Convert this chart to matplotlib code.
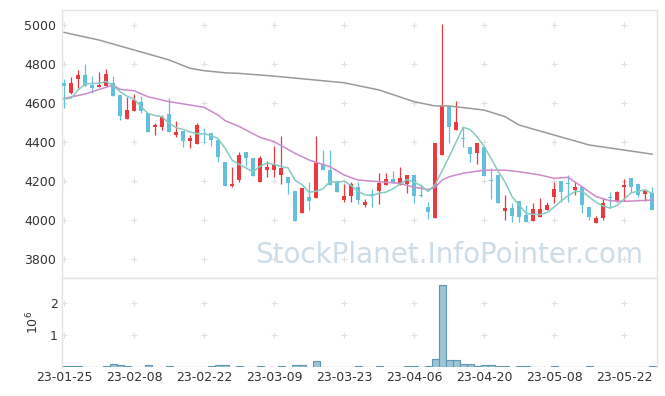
import matplotlib
matplotlib.use('Agg')
import matplotlib.pyplot as plt
import numpy as np
import pandas as pd

# Daily OHLC (KRX trading days 2023-01-25 .. 2023-05-26)
holidays = ['2023-03-01', '2023-05-01', '2023-05-05']
opens = [4701, 4653, 4725, 4744, 4692, 4684, 4689, 4701, 4641, 4520,
         4561, 4603, 4547, 4479, 4479, 4544, 4436, 4458, 4407, 4388,
         4446, 4448, 4410, 4296, 4176, 4205, 4347, 4318, 4197, 4259,
         4255, 4233, 4223, 4150, 4034, 4116, 4111, 4287, 4255, 4200,
         4104, 4125, 4172, 4075, 4133, 4150, 4180, 4209, 4180, 4186,
         4233, 4127, 4069, 4009, 4333, 4585, 4462, 4420, 4376, 4342,
         4373, 4207, 4231, 4048, 4063, 4097, 4026, 3993, 4015, 4053,
         4116, 4200, 4190, 4154, 4168, 4065, 3986, 4009, 4118, 4099,
         4171, 4214, 4183, 4134, 4140]
highs = [4721, 4735, 4769, 4798, 4738, 4761, 4774, 4738, 4641, 4629,
         4646, 4636, 4547, 4499, 4538, 4624, 4509, 4458, 4436, 4496,
         4470, 4448, 4410, 4296, 4271, 4350, 4347, 4318, 4328, 4301,
         4379, 4430, 4223, 4150, 4162, 4196, 4433, 4359, 4359, 4200,
         4184, 4196, 4196, 4109, 4157, 4241, 4241, 4250, 4270, 4233,
         4233, 4184, 4095, 4393, 5006, 4585, 4610, 4479, 4376, 4397,
         4380, 4267, 4231, 4128, 4087, 4097, 4075, 4090, 4114, 4093,
         4197, 4200, 4230, 4195, 4168, 4065, 4022, 4112, 4145, 4150,
         4209, 4214, 4183, 4149, 4170]
lows = [4573, 4644, 4675, 4689, 4653, 4680, 4689, 4636, 4513, 4520,
        4561, 4547, 4450, 4436, 4462, 4450, 4427, 4373, 4368, 4388,
        4393, 4380, 4296, 4176, 4171, 4197, 4275, 4228, 4197, 4221,
        4221, 4187, 4134, 3996, 4034, 4050, 4111, 4255, 4182, 4143,
        4092, 4094, 4080, 4066, 4066, 4080, 4180, 4192, 4180, 4141,
        4090, 4116, 4006, 4009, 4333, 4397, 4462, 4376, 4299, 4290,
        4226, 4108, 4086, 4000, 3992, 3990, 3988, 3993, 4015, 4053,
        4087, 4092, 4095, 4131, 4034, 4000, 3986, 4000, 4061, 4095,
        4097, 4139, 4120, 4097, 4051]
closes = [4689, 4701, 4744, 4689, 4679, 4692, 4749, 4636, 4535, 4564,
          4615, 4561, 4453, 4487, 4530, 4450, 4450, 4407, 4422, 4487,
          4443, 4410, 4325, 4176, 4184, 4333, 4316, 4228, 4318, 4273,
          4289, 4267, 4192, 3996, 4162, 4097, 4292, 4255, 4182, 4143,
          4124, 4184, 4104, 4092, 4121, 4191, 4209, 4192, 4214, 4233,
          4121, 4123, 4041, 4393, 4583, 4479, 4505, 4416, 4339, 4397,
          4226, 4200, 4086, 4063, 4022, 4017, 3988, 4056, 4056, 4075,
          4159, 4145, 4186, 4168, 4077, 4017, 4009, 4090, 4114, 4145,
          4181, 4168, 4131, 4149, 4051]
# four closes before the first visible day, needed for the 5-day average
prior_closes = [4676, 4534, 4539, 4662]
volumes = [40e3, 40e3, 40e3, 10e3, 10e3, 10e3, 40e3, 105e3, 75e3, 40e3,
           10e3, 10e3, 75e3, 10e3, 10e3, 40e3, 10e3, 10e3, 10e3, 10e3,
           10e3, 40e3, 75e3, 75e3, 10e3, 40e3, 10e3, 10e3, 40e3, 10e3,
           10e3, 40e3, 10e3, 75e3, 75e3, 10e3, 180e3, 10e3, 10e3, 10e3,
           10e3, 10e3, 40e3, 10e3, 10e3, 40e3, 10e3, 0, 10e3, 40e3,
           40e3, 10e3, 40e3, 262e3, 2546e3, 211e3, 211e3, 107e3, 107e3, 44e3,
           76e3, 76e3, 44e3, 44e3, 10e3, 44e3, 44e3, 10e3, 10e3, 10e3,
           44e3, 10e3, 10e3, 10e3, 10e3, 44e3, 10e3, 10e3, 10e3, 10e3,
           10e3, 10e3, 0, 0, 20e3]

ma20_days = [0, 3, 5, 7, 8, 10, 12, 15, 18, 20, 22, 23, 25, 28, 30, 33, 35,
             38, 40, 42, 45, 48, 50, 52, 53, 54, 55, 57, 60, 63, 65, 68, 70,
             72, 74, 76, 78, 80, 82, 84]
ma20_vals = [4624, 4646, 4670, 4692, 4670, 4663, 4632, 4607, 4590, 4578,
             4538, 4510, 4480, 4424, 4402, 4342, 4308, 4273, 4231, 4205,
             4197, 4188, 4168, 4157, 4168, 4205, 4222, 4240, 4256, 4256,
             4248, 4231, 4214, 4219, 4171, 4120, 4099, 4096, 4099, 4103]
ma60_days = [0, 5, 10, 15, 18, 20, 23, 25, 30, 35, 40, 45, 50, 53, 55, 60,
             63, 65, 70, 75, 80, 84]
ma60_vals = [4962, 4923, 4872, 4821, 4778, 4766, 4755, 4752, 4738, 4721,
             4704, 4667, 4607, 4585, 4585, 4564, 4530, 4487, 4436, 4385,
             4359, 4338]

UP = '#ea3a40'
DOWN = '#63bfdb'
FONT = 'DejaVu Sans'


def main():
    plt.rcParams['font.family'] = FONT
    dates = pd.bdate_range('2023-01-25', '2023-05-26')
    dates = dates[~dates.isin(pd.to_datetime(holidays))]
    n = len(closes)
    x = np.arange(n)
    o = np.array(opens, float)
    h = np.array(highs, float)
    l = np.array(lows, float)
    c = np.array(closes, float)

    ma5 = pd.Series(prior_closes + closes).rolling(5).mean().to_numpy()[4:]

    fig = plt.figure(figsize=(6.65, 3.96), dpi=100)
    ax = fig.add_axes([62 / 665, 118 / 396, 595 / 665, 268 / 396])
    axv = fig.add_axes([62 / 665, 29 / 396, 595 / 665, 89 / 396], sharex=ax)

    xticks = x[::10]
    yticks = [3800, 4000, 4200, 4400, 4600, 4800, 5000]
    vticks = [1, 2]

    # "+" grid marks
    gx, gy = np.meshgrid(xticks, yticks)
    ax.plot(gx.ravel(), gy.ravel(), '+', color='#e0e0e0', ms=4.5, mew=0.8, zorder=0)
    gx, gy = np.meshgrid(xticks, vticks)
    axv.plot(gx.ravel(), gy.ravel(), '+', color='#e0e0e0', ms=4.5, mew=0.8, zorder=0)

    ax.text(0.65, 0.086, 'StockPlanet.InfoPointer.com', transform=ax.transAxes,
            ha='center', va='center', fontsize=20, color='#cddde8', zorder=0)

    # candles
    up = c >= o
    colors = np.where(up, UP, DOWN)
    ax.vlines(x, l, h, colors=colors, linewidth=0.9, zorder=2)
    body_bottom = np.minimum(o, c)
    body_height = np.maximum(np.abs(c - o), 3)
    ax.bar(x, body_height, bottom=body_bottom, width=0.6, color=colors,
           linewidth=0, zorder=3)

    # moving averages
    ax.plot(ma60_days, ma60_vals, color='#9a9a9a', lw=1.1, zorder=4)
    ax.plot(ma20_days, ma20_vals, color='#cc8acb', lw=1.1, zorder=4)
    ax.plot(x, ma5, color='#86cbc2', lw=1.1, zorder=4)

    ax.set_xlim(-0.3, n - 1 + 0.7)
    ax.set_ylim(3703, 5077)
    ax.set_yticks(yticks)
    ax.tick_params(axis='x', labelbottom=False, length=0)
    ax.tick_params(axis='y', length=0, labelsize=9, labelcolor='#333333', pad=4)

    # volume
    axv.bar(x, np.array(volumes) / 1e6, width=1.0, color='#9cc4d5',
            edgecolor='#5f97b0', linewidth=0.8, zorder=2)
    axv.set_ylim(0, 2.78)
    axv.set_yticks(vticks)
    axv.set_ylabel(r'$10^6$', fontsize=9, color='#333333', labelpad=6)
    axv.set_xticks(xticks)
    axv.set_xticklabels([d.strftime('%y-%m-%d') for d in dates[::10]])
    axv.tick_params(axis='both', length=0, labelsize=9, labelcolor='#333333', pad=3)

    for a in (ax, axv):
        for s in a.spines.values():
            s.set_color('#e4e4e4')
            s.set_linewidth(1.0)
    axv.spines['bottom'].set_visible(False)

    fig.savefig('out.png', dpi=100)


if __name__ == "__main__":
    main()
